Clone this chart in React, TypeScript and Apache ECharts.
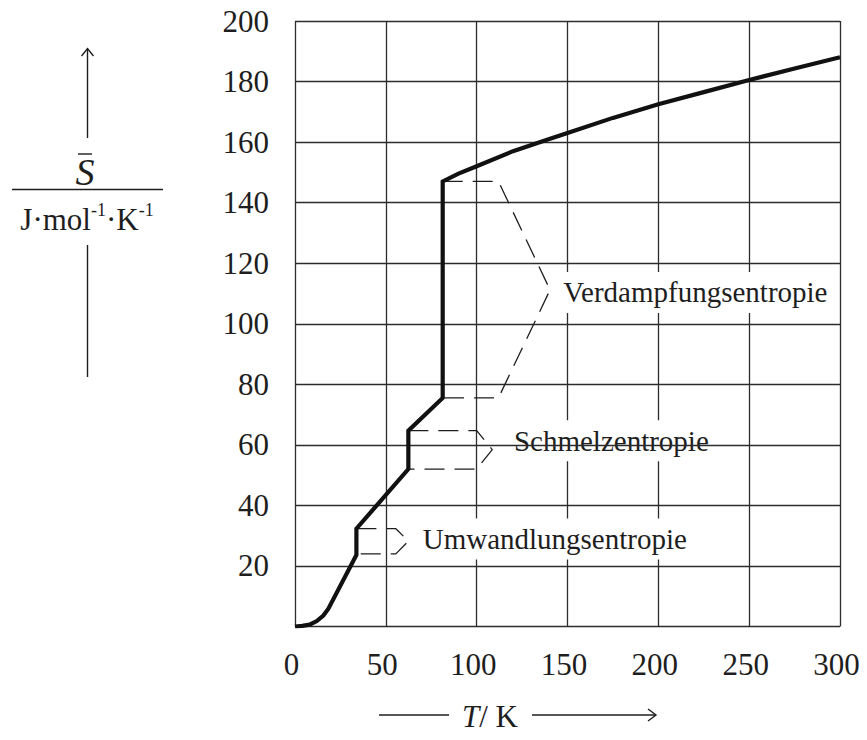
import React, { useEffect, useRef } from 'react';
import * as echarts from 'echarts';

// Axis ticks
const xMin = 0, xMax = 300, xStep = 50;
const yMin = 0, yMax = 200, yStep = 20;

// Main entropy curve (T in K, S in J/mol/K)
const curveT = [0, 4, 8, 12, 15.6, 18.3, 33.8, 33.8, 62.4, 62.4, 81.3, 81.3, 90, 100, 120, 140, 150, 175, 200, 225, 250, 275, 300];
const curveS = [0, 0.2, 0.6, 1.8, 3.6, 5.8, 23.6, 32.3, 52, 64.7, 75.5, 147, 149.6, 152, 157, 161, 163, 168, 172.5, 176.5, 180.5, 184.3, 188];

// Dashed brackets
const umwT = [33.8, 55.5, 62.4, 55.5, 33.8];
const umwS = [32.3, 32.3, 28.2, 24.0, 24.0];
const schT = [62.4, 100, 108.6, 100, 62.4];
const schS = [64.7, 64.7, 58.4, 52, 52];
const verT = [81.3, 112, 140.4, 112, 81.3];
const verS = [147, 147, 111.2, 75.5, 75.5];

// Annotation labels (anchor at text start, data units)
const annTexts = ['Umwandlungsentropie', 'Schmelzentropie', 'Verdampfungsentropie'];
const annT = [70.3, 120.5, 147.7];
const annS = [28.6, 61, 110];

const FONT = "'Liberation Serif', 'Times New Roman', serif";
const INK = '#1e1e1e';

function pairs(xs: number[], ys: number[]) {
  return xs.map((x, i) => [x, ys[i]]);
}

export default function App() {
  const ref = useRef<HTMLDivElement>(null);
  useEffect(() => {
    if (!ref.current) return;
    const chart = echarts.init(ref.current, null, { renderer: 'svg' });
    const dashed = (name: string, xs: number[], ys: number[]) => ({
      name,
      type: 'line',
      data: pairs(xs, ys),
      showSymbol: false,
      symbol: 'none',
      z: 20,
      lineStyle: { color: INK, width: 1.3, type: [20, 10] },
      silent: true,
    });
    chart.setOption({
      animation: false,
      backgroundColor: '#ffffff',
      grid: { left: 295, top: 21, width: 545, height: 605.5, containLabel: false },
      xAxis: {
        type: 'value',
        min: xMin,
        max: xMax,
        interval: xStep,
        z: 0,
        axisLine: { show: false },
        axisTick: { show: false },
        axisLabel: { color: INK, fontFamily: FONT, fontSize: 31, margin: 22, padding: [0, 7, 0, 0] },
        splitLine: { show: true, lineStyle: { color: '#2c2c2c', width: 1.3 } },
      },
      yAxis: {
        type: 'value',
        min: yMin,
        max: yMax,
        interval: yStep,
        z: 10,
        axisLine: { show: false },
        axisTick: { show: false },
        axisLabel: {
          color: INK,
          fontFamily: FONT,
          fontSize: 31,
          margin: 26,
          formatter: (v: number) => (v === 0 ? '' : String(v)),
        },
        splitLine: { show: true, lineStyle: { color: '#2c2c2c', width: 1.3 } },
      },
      series: [
        {
          name: 'S',
          type: 'line',
          data: pairs(curveT, curveS),
          showSymbol: false,
          symbol: 'none',
          z: 30,
          lineStyle: { color: '#111', width: 4.2, join: 'miter' },
          silent: true,
        },
        dashed('umw', umwT, umwS),
        dashed('sch', schT, schS),
        dashed('ver', verT, verS),
      ],
    });

    const graphics: any[] = [];
    annTexts.forEach((t, i) => {
      const p = chart.convertToPixel({ gridIndex: 0 }, [annT[i], annS[i]]) as number[];
      graphics.push({
        type: 'text',
        z: 5,
        x: p[0] - 5,
        y: p[1] - 1,
        style: {
          text: t,
          font: `29px ${FONT}`,
          fill: INK,
          backgroundColor: '#ffffff',
          padding: [6, 5, 6, 5],
          verticalAlign: 'middle',
          align: 'left',
        },
      });
    });

    // Y-axis quantity label
    const lineSty = { stroke: INK, lineWidth: 1.4 };
    graphics.push(
      { type: 'line', shape: { x1: 87.5, y1: 138, x2: 87.5, y2: 48.5 }, style: lineSty },
      { type: 'polyline', shape: { points: [[81.5, 56], [87.5, 48.5], [93.5, 56]] }, style: { ...lineSty, fill: null } },
      {
        type: 'text',
        x: 85,
        y: 191,
        style: { text: 'S', font: `italic 38px ${FONT}`, fill: INK, align: 'center', verticalAlign: 'bottom' },
      },
      { type: 'line', shape: { x1: 78, y1: 154, x2: 92, y2: 154 }, style: lineSty },
      { type: 'line', shape: { x1: 12, y1: 189.5, x2: 163, y2: 189.5 }, style: lineSty },
      {
        type: 'text',
        x: 87,
        y: 218,
        style: {
          text: '{n|J·mol}{s|-1}{n|·K}{s|-1}',
          align: 'center',
          verticalAlign: 'middle',
          rich: {
            n: { font: `31px ${FONT}`, fill: INK, verticalAlign: 'bottom', lineHeight: 34 },
            s: { font: `18px ${FONT}`, fill: INK, verticalAlign: 'top', lineHeight: 34, padding: [0, 0, 14, 0] },
          },
        },
      },
      { type: 'line', shape: { x1: 87.5, y1: 245, x2: 87.5, y2: 377 }, style: lineSty },
    );

    // X-axis quantity label
    graphics.push(
      { type: 'line', shape: { x1: 379, y1: 715, x2: 449, y2: 715 }, style: lineSty },
      {
        type: 'text',
        x: 462,
        y: 716,
        style: {
          text: '{i|T}{n|/ K}',
          align: 'left',
          verticalAlign: 'middle',
          rich: {
            i: { font: `italic 31px ${FONT}`, fill: INK },
            n: { font: `31px ${FONT}`, fill: INK },
          },
        },
      },
      { type: 'line', shape: { x1: 532, y1: 715, x2: 656, y2: 715 }, style: lineSty },
      { type: 'polyline', shape: { points: [[648, 709], [656, 715], [648, 721]] }, style: { ...lineSty, fill: null } },
    );

    chart.setOption({ graphic: graphics });
    return () => chart.dispose();
  }, []);
  return <div ref={ref} style={{ position: 'fixed', left: 0, top: 0, width: 867, height: 740 }} />;
}
